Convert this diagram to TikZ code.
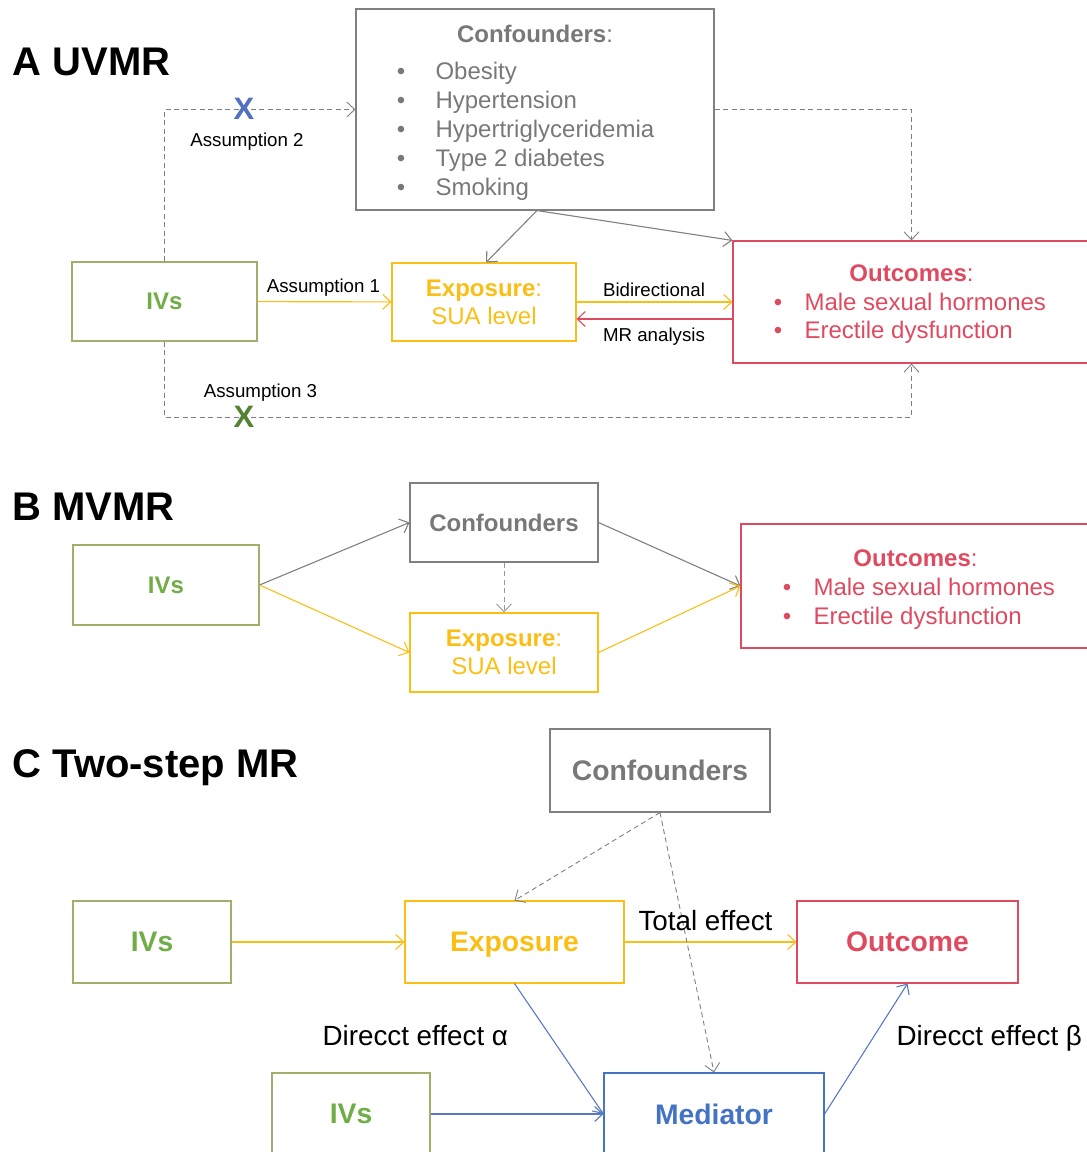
\documentclass[tikz,border=0pt]{standalone}
\usepackage{fontspec}
\setmainfont{Liberation Sans}
\usetikzlibrary{arrows.meta, positioning}
\definecolor{boxgray}{RGB}{128,128,128}
\definecolor{textgray}{RGB}{120,120,120}
\definecolor{ivline}{RGB}{158,176,106}
\definecolor{ivgreen}{RGB}{112,173,71}
\definecolor{expyellow}{RGB}{250,190,20}
\definecolor{outred}{RGB}{222,74,96}
\definecolor{medblue}{RGB}{68,114,196}
\definecolor{arrblue}{RGB}{88,122,190}
\definecolor{dashgray}{RGB}{125,128,138}
\definecolor{xblue}{RGB}{82,112,192}
\definecolor{xgreen}{RGB}{84,130,53}

\begin{document}
\begin{tikzpicture}[x=1pt, y=-1pt, line width=1.1pt,
    >={Straight Barb[length=8pt,width=15pt]},
    box/.style 2 args={draw, rectangle, inner sep=0pt, minimum width=#1, minimum height=#2},
    head/.style={font=\fontsize{40}{48}\selectfont\bfseries, anchor=base west, inner sep=0pt},
    txt/.style={font=\fontsize{24}{28}\selectfont, inner sep=0pt},
    small/.style={font=\fontsize{18.7}{22}\selectfont, anchor=base, inner sep=0pt},
    big/.style={font=\fontsize{28.3}{34}\selectfont\bfseries, text depth=0pt},
    cross/.style={font=\fontsize{31}{31}\selectfont\bfseries, inner sep=0pt},
    dashline/.style={draw=dashgray, line width=0.9pt, dash pattern=on 5pt off 3.5pt}
    ]
\useasboundingbox (0,0) rectangle (1087,1152);
\clip (0,0) rectangle (1087,1152);

% A UVMR
\node[head] (tA) at (12,75) {A UVMR};
\node[box={358pt}{201pt}, draw=boxgray] (confA) at (535,109.5) {};
\node[txt, anchor=base, text=textgray] (confAt) at (535,42) {\textbf{Confounders}:};
\foreach \name [count=\i] in {Obesity, Hypertension, Hypertriglyceridemia, Type 2 diabetes, Smoking} {
  \node[txt, anchor=base, text=textgray] (bA\i) at (401,50+29*\i) {•};
  \node[txt, anchor=base west, text=textgray] (cA\i) at (435,50+29*\i) {\name};
}
\node[box={185pt}{79pt}, draw=ivline, text=ivgreen, font=\fontsize{24}{28}\selectfont\bfseries] (ivsA) at (164.5,301.5) {IVs};
\node[box={184pt}{78pt}, draw=expyellow, txt, text=expyellow, align=center] (expA) at (484,302) {\textbf{Exposure}:\\SUA level};
\node[box={357pt}{122pt}, draw=outred] (outA) at (911.5,302) {};
\node[txt, anchor=base, text=outred] (outAt) at (911.5,281) {\textbf{Outcomes}:};
\node[txt, anchor=base, text=outred] (oAb1) at (778,310) {•};
\node[txt, anchor=base west, text=outred] (oA1) at (804,310) {Male sexual hormones};
\node[txt, anchor=base, text=outred] (oAb2) at (778,338) {•};
\node[txt, anchor=base west, text=outred] (oA2) at (804,338) {Erectile dysfunction};

\draw[->, expyellow] (ivsA) -- (expA);
\draw[->, expyellow] (expA.east) -- (expA.east -| outA.west);
\draw[->, outred] ([yshift=-17pt]outA.west) -- ([yshift=-17pt]outA.west -| expA.east);
\draw[->, boxgray] ([xshift=2pt]confA.south) -- ([xshift=2pt]expA.north);
\draw[->, boxgray] ([xshift=2pt]confA.south) -- (outA.north west);
\node[small] (a1) at (323.5,292) {Assumption 1};
\node[small] (bid) at (654,296) {Bidirectional};
\node[small] (mra) at (654,341) {MR analysis};

\coordinate (lowA) at (164.5,417);
\draw[dashline, ->] (ivsA.north) |- (confA.west);
\draw[dashline, ->] (confA.east) -| (outA.north);
\draw[dashline, ->] (ivsA.south) -- (lowA) -| (outA.south);
\node[cross, text=xblue] (xA2) at (244,109) {X};
\node[cross, text=xgreen] (xA3) at (244,417) {X};
\node[small] (a2) at (247,146) {Assumption 2};
\node[small] (a3) at (260.5,397) {Assumption 3};

% B MVMR
\node[head] (tB) at (12,520) {B MVMR};
\node[box={186pt}{80pt}, draw=ivline, text=ivgreen, font=\fontsize{24}{28}\selectfont\bfseries] (ivsB) at (166,585) {IVs};
\node[box={188pt}{79pt}, draw=boxgray, text=textgray, font=\fontsize{24}{28}\selectfont\bfseries] (confB) at (504,522.5) {Confounders};
\node[box={188pt}{79pt}, draw=expyellow, txt, text=expyellow, align=center] (expB) at (504,652.5) {\textbf{Exposure}:\\SUA level};
\node[box={349pt}{124pt}, draw=outred] (outB) at (915.5,586) {};
\node[txt, anchor=base, text=outred] (outBt) at (915.5,566) {\textbf{Outcomes}:};
\node[txt, anchor=base, text=outred] (oBb1) at (787,595) {•};
\node[txt, anchor=base west, text=outred] (oB1) at (813,595) {Male sexual hormones};
\node[txt, anchor=base, text=outred] (oBb2) at (787,624) {•};
\node[txt, anchor=base west, text=outred] (oB2) at (813,624) {Erectile dysfunction};

\draw[->, boxgray] (ivsB.east) -- (confB.west);
\draw[->, expyellow] (ivsB.east) -- (expB.west);
\draw[->, boxgray] (confB.east) -- (outB.west);
\draw[->, expyellow] (expB.east) -- (outB.west);
\draw[dashline, draw=boxgray!80, ->] (confB.south) -- (expB.north);

% C Two-step MR
\node[head] (tC) at (12,777) {C Two-step MR};
\node[box={220pt}{83pt}, draw=boxgray, big, text=textgray] (confC) at (660,770.5) {Confounders};
\node[box={158pt}{82pt}, draw=ivline, big, text=ivgreen] (ivsC1) at (152,942) {IVs};
\node[box={219pt}{82pt}, draw=expyellow, big, text=expyellow] (expC) at (514.5,942) {Exposure};
\node[box={221pt}{82pt}, draw=outred, big, text=outred] (outC) at (907.5,942) {Outcome};
\node[box={158pt}{82pt}, draw=ivline, big, text=ivgreen] (ivsC2) at (351,1114) {IVs};
\node[box={220pt}{82pt}, draw=medblue, big, text=medblue] (medC) at (714,1114) {Mediator};

\draw[->, expyellow] (ivsC1) -- (expC);
\draw[->, expyellow] (expC) -- (outC);
\draw[dashline, ->] (confC.south) -- (expC.north);
\draw[dashline, ->] (confC.south) -- (medC.north);
\draw[->, arrblue] (expC.south) -- (medC.west);
\draw[->, arrblue] (ivsC2) -- (medC);
\draw[->, arrblue] (medC.east) -- (outC.south);
\node[small, font=\fontsize{27.8}{32}\selectfont] (tot) at (705.5,930) {Total effect};
\node[small, font=\fontsize{27.8}{32}\selectfont, anchor=base west] (da) at (322,1045) {Direcct effect α};
\node[small, font=\fontsize{27.8}{32}\selectfont, anchor=base west] (db) at (896,1045) {Direcct effect β};
\end{tikzpicture}
\end{document}
